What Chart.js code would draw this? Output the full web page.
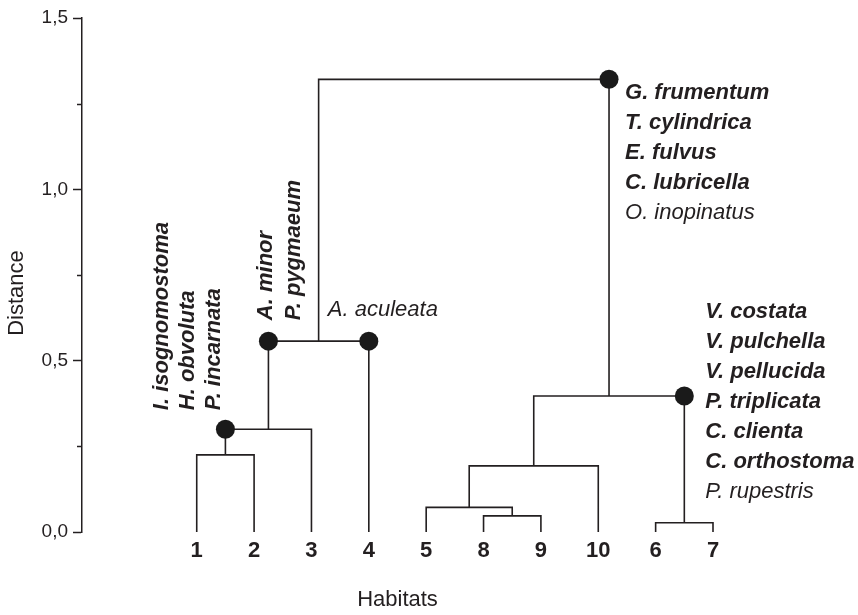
<!DOCTYPE html>
<html lang="en">
<head>
<meta charset="utf-8">
<title>Habitat dendrogram</title>
<script src="https://cdn.jsdelivr.net/npm/chart.js@4"></script>
<style>
  html, body { margin: 0; padding: 0; background: #fff; }
</style>
</head>
<body>
<canvas id="chart" width="858" height="615"></canvas>
<script>
// leaf order along the x axis
var habitats = ['1', '2', '3', '4', '5', '8', '9', '10', '6', '7'];
// linkage: cluster 10+k joins mergeA[k] and mergeB[k] at mergeHeight[k]
var mergeA = [0, 10, 11, 5, 4, 14, 8, 15, 12];
var mergeB = [1, 2, 3, 6, 13, 7, 9, 16, 17];
var mergeHeight = [0.225, 0.30, 0.557, 0.047, 0.072, 0.193, 0.027, 0.397, 1.321];
// nodes marked with a dot, where the node meets its parent
var dotNodes = [10, 11, 3, 17, 16];
var yTicks = [0, 0.5, 1.0, 1.5];
var yMinorTicks = [0.25, 0.75, 1.25];
// species attached to each dot
var speciesBold = [
  ['I. isognomostoma', 'H. obvoluta', 'P. incarnata'],
  ['A. minor', 'P. pygmaeum'],
  [],
  ['G. frumentum', 'T. cylindrica', 'E. fulvus', 'C. lubricella'],
  ['V. costata', 'V. pulchella', 'V. pellucida', 'P. triplicata', 'C. clienta', 'C. orthostoma']
];
var speciesPlain = [[], [], ['A. aculeata'], ['O. inopinatus'], ['P. rupestris']];

var ink = '#231f20';
var family = '"Liberation Sans", Arial, Helvetica, sans-serif';

// node coordinates from the linkage
var nodeX = habitats.map(function (h, i) { return i; });
var nodeY = habitats.map(function () { return 0; });
var parentHeight = {};
mergeA.forEach(function (a, k) {
  var b = mergeB[k];
  nodeX.push((nodeX[a] + nodeX[b]) / 2);
  nodeY.push(mergeHeight[k]);
  parentHeight[a] = mergeHeight[k];
  parentHeight[b] = mergeHeight[k];
});

var datasets = [{
  data: dotNodes.map(function (n) { return { x: nodeX[n], y: parentHeight[n] }; }),
  showLine: false,
  pointRadius: 9.5,
  pointBackgroundColor: '#1a1a1a',
  pointBorderWidth: 0,
  clip: false,
  order: 0
}];
mergeA.forEach(function (a, k) {
  var b = mergeB[k], h = mergeHeight[k];
  datasets.push({
    data: [
      { x: nodeX[a], y: nodeY[a] },
      { x: nodeX[a], y: h },
      { x: nodeX[b], y: h },
      { x: nodeX[b], y: nodeY[b] }
    ],
    showLine: true,
    borderColor: ink,
    borderWidth: 1.6,
    pointRadius: 0,
    tension: 0,
    clip: false,
    order: 1
  });
});

// how each species list sits next to its dot (pixels)
var labelLayout = [
  { vertical: true, dx: -63, dy: -19, step: 26 },
  { vertical: true, dx: -2, dy: -21, step: 28 },
  { vertical: false, dx: -41, dy: -31, step: 30 },
  { vertical: false, dx: 16, dy: 14, step: 30 },
  { vertical: false, dx: 21, dy: -84, step: 30 }
];

var labelsPlugin = {
  id: 'speciesLabels',
  afterDraw: function (chart) {
    var ctx = chart.ctx;
    var xs = chart.scales.x, ys = chart.scales.y;
    ctx.save();
    ctx.fillStyle = ink;
    // minor ticks on the distance axis
    ctx.strokeStyle = ink;
    ctx.lineWidth = 1.5;
    yMinorTicks.forEach(function (v) {
      var py = Math.round(ys.getPixelForValue(v)) + 0.5;
      ctx.beginPath();
      ctx.moveTo(xs.left - 5, py);
      ctx.lineTo(xs.left, py);
      ctx.stroke();
    });
    // species lists
    dotNodes.forEach(function (n, i) {
      var px = xs.getPixelForValue(nodeX[n]);
      var py = ys.getPixelForValue(parentHeight[n]);
      var lay = labelLayout[i];
      var names = speciesBold[i].map(function (s) { return [s, 'bold']; })
        .concat(speciesPlain[i].map(function (s) { return [s, 'normal']; }));
      names.forEach(function (item, j) {
        ctx.font = 'italic ' + item[1] + ' 22px ' + family;
        ctx.textAlign = 'left';
        ctx.textBaseline = 'middle';
        if (lay.vertical) {
          ctx.save();
          ctx.translate(px + lay.dx + j * lay.step, py + lay.dy);
          ctx.rotate(-Math.PI / 2);
          ctx.fillText(item[0], 0, 0);
          ctx.restore();
        } else {
          ctx.fillText(item[0], px + lay.dx, py + lay.dy + j * lay.step);
        }
      });
    });
    // y axis title
    ctx.font = '22px ' + family;
    ctx.textAlign = 'center';
    ctx.textBaseline = 'middle';
    ctx.translate(17, 293);
    ctx.rotate(-Math.PI / 2);
    ctx.fillText('Distance', 0, 0);
    ctx.restore();
  }
};

var config = {
  type: 'scatter',
  data: { datasets: datasets },
  options: {
    responsive: false,
    animation: false,
    devicePixelRatio: 1,
    layout: { padding: { top: 18, right: 145, bottom: 0, left: 0 } },
    plugins: { legend: { display: false }, tooltip: { enabled: false } },
    scales: {
      x: {
        type: 'linear',
        min: -2,
        max: 9,
        grid: { display: false, drawTicks: false },
        border: { display: false },
        afterBuildTicks: function (scale) {
          scale.ticks = habitats.map(function (h, i) { return { value: i }; });
        },
        afterFit: function (scale) { scale.height = 83; },
        ticks: {
          autoSkip: false,
          maxRotation: 0,
          padding: 6,
          color: ink,
          font: { family: family, size: 22, weight: 'bold' },
          callback: function (v) { return habitats[v]; }
        },
        title: {
          display: true,
          text: 'Habitats',
          color: ink,
          font: { family: family, size: 22 },
          padding: { top: 0, bottom: 2 }
        }
      },
      y: {
        type: 'linear',
        min: 0,
        max: 1.5,
        afterBuildTicks: function (scale) {
          scale.ticks = yTicks.map(function (v) { return { value: v }; });
        },
        afterFit: function (scale) { scale.width = 82; },
        grid: {
          display: true,
          drawOnChartArea: false,
          drawTicks: true,
          tickLength: 9,
          tickWidth: 1.5,
          tickColor: ink
        },
        border: { display: true, color: ink, width: 1.5 },
        ticks: {
          padding: 5,
          color: ink,
          font: { family: family, size: 19 },
          callback: function (v) { return v.toFixed(1).replace('.', ','); }
        },
        title: { display: false }
      }
    }
  },
  plugins: [labelsPlugin]
};

new Chart(document.getElementById('chart').getContext('2d'), config);
</script>
</body>
</html>
